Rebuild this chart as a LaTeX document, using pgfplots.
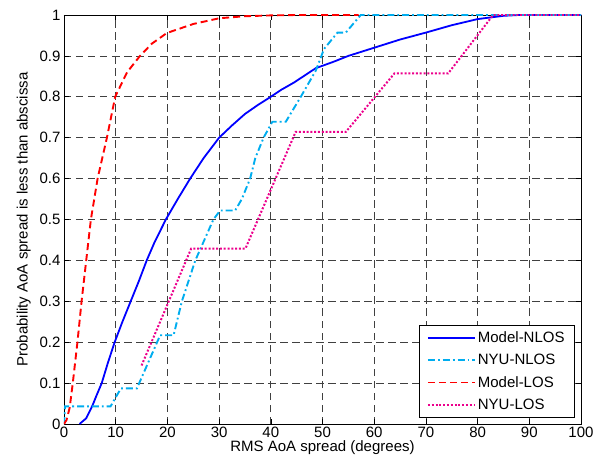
\documentclass[border=0pt]{standalone}
\usepackage{fontspec}
\setmainfont{Liberation Sans}
\usepackage{pgfplots}
\pgfplotsset{compat=1.18}

\begin{document}
\begin{tikzpicture}
  \begin{axis}[
      at={(0,0)}, anchor=south west,
      scale only axis, width=517pt, height=409pt,
      xmin=0, xmax=100, ymin=0, ymax=1,
      xtick={0,10,...,100},
      ytick={0,0.1,...,1},
      yticklabel style={/pgf/number format/fixed, /pgf/number format/precision=1},
      /pgf/number format/assume math mode=true,
      tick label style={font=\fontsize{15}{17}\selectfont},
      label style={font=\fontsize{15}{17}\selectfont},
      xticklabel style={yshift=1pt},
      xlabel={RMS AoA spread (degrees)},
      ylabel={Probability AoA spread is less than abscissa},
      xlabel style={yshift=3pt},
      ylabel style={yshift=2pt},
      tick align=inside, major tick length=5pt,
      every tick/.style={black, line width=0.6pt},
      axis line style={black, line width=0.9pt},
      grid=major,
      major grid style={black!75, line width=0.75pt, dash pattern=on 7.5pt off 4.5pt},
      legend cell align=left,
      legend image code/.code={\draw[#1] (0pt,0pt) -- (47pt,0pt);},
      legend style={at={(0.988,0.015)}, anchor=south east,
        draw=black, fill=white,
        font=\fontsize{15}{17}\selectfont,
        row sep=6pt, inner xsep=8pt, inner ysep=5pt},
    ]
    % Model-NLOS
    \addplot[color=blue, line width=1.8pt] coordinates {
      (3.0,0) (4.3,0.014) (5.5,0.045) (6.3,0.07) (7.3,0.1) (8.5,0.15)
      (9.8,0.2) (11.3,0.25) (12.9,0.3) (14.5,0.35) (16,0.4) (17.5,0.444)
      (19.7,0.5) (22,0.55) (24.4,0.6) (27,0.65) (30,0.7) (32.5,0.73)
      (35,0.758) (37.5,0.78) (40,0.8) (42,0.817) (44.5,0.835) (48.7,0.87)
      (52,0.885) (55,0.9) (60,0.92) (65,0.94) (70,0.957) (75,0.975)
      (80,0.99) (85,0.998) (88,1) (100,1)};
    % NYU-NLOS
    \addplot[color=cyan, line width=1.9pt, dash pattern=on 7pt off 3pt on 1.8pt off 3pt] coordinates {
      (0,0) (0.2,0.043) (9,0.043) (11,0.087) (14.1,0.087) (18.6,0.217)
      (21.2,0.217) (22.8,0.3) (25.4,0.4) (28.9,0.5) (30.2,0.522) (33.1,0.522)
      (34.4,0.55) (36,0.6) (37,0.65) (38.6,0.7) (40.3,0.739) (42.9,0.739)
      (45.8,0.8) (48.7,0.864) (50.3,0.917) (52.9,0.957) (54.5,0.957)
      (57.4,1) (100,1)};
    % Model-LOS
    \addplot[color=red, line width=1.9pt, dash pattern=on 7pt off 4pt] coordinates {
      (0,0) (0.5,0.01) (1.1,0.04) (1.7,0.1) (2.6,0.2) (3.4,0.3) (4.3,0.4)
      (5.2,0.5) (6.5,0.6) (8.3,0.7) (9.9,0.8) (12.2,0.86) (14.7,0.9)
      (17,0.93) (19.9,0.956) (25,0.978) (30,0.992) (35,0.997) (40,0.999)
      (45,1) (57,1)};
    % NYU-LOS
    \addplot[color=magenta, line width=2pt, dash pattern=on 2pt off 1.8pt] coordinates {
      (15,0.143) (24.6,0.429) (35.1,0.429) (44.8,0.714) (54.5,0.714)
      (63.9,0.857) (74.3,0.857) (83,1) (100,1)};
    \legend{Model-NLOS, NYU-NLOS, Model-LOS, NYU-LOS}
  \end{axis}
  \pgfresetboundingbox
  \useasboundingbox (-64pt,-42pt) rectangle (538pt,424pt);
\end{tikzpicture}
\end{document}
